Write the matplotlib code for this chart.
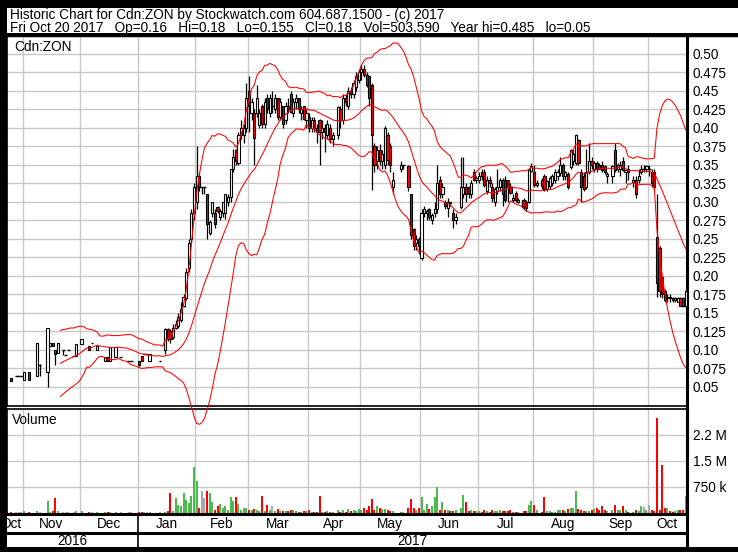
import numpy as np
import pandas as pd
import matplotlib
matplotlib.use("Agg")
import matplotlib.pyplot as plt
from matplotlib.patches import Rectangle
from matplotlib.lines import Line2D

N = None
# ---------------- data (one slot per business day, None = no trade) ----------------
start_date = "2016-10-24"
end_date = "2017-10-20"

opens = [
 N, .062, N, .065, .065, .065, .060, N, .070, N,
 N, .065, .080, N, N, .070, .105, .110, .100, .096,
 N, .100, .093, .100, N, .092, .092, N, .108, N,
 N, .105, .109, N, .100, N, N, .085, .090, .085,
 N, .090, N, .090, N, N, .085, .085, N, N,
 .085, .092, .095, .095, .085, N, N, N, .085, N,
 .100, .128, .125, .118, .130, .133, .140, .160, .170, .210,
 .250, .285, .300, .335, .320, .320, .310, .258, .285, .285,
 .293, .280, .285, .285, .300, .306, .345, .370, .352, .390,
 .390, .400, .450, .420, .420, .420, .404, .430, .405, .440,
 .420, .430, .425, .440, .415, .430, .410, .430, .445, .420,
 .435, .440, .420, .430, .410, .415, .400, .410, .400, .410,
 .395, .400, .390, .400, .385, N, .390, .425, .410, .440,
 .430, .450, .445, .455, .465, .475, .480, .472, .470, .458,
 .375, .355, .370, .355, .350, .390, .375, .320, N, N,
 .345, .350, N, .348, .310, .263, .245, .250, .224, .285,
 .285, .290, .275, .285, .290, .330, .310, .300, .292, .300,
 .285, .275, N, .293, .310, .320, .320, .310, .340, .330,
 .330, .340, .340, .314, .330, .320, .300, .315, .320, .330,
 .330, .330, .320, .303, .312, .300, N, .302, .300, .300,
 .342, .341, .323, N, .330, .335, .318, .322, .325, .330,
 .335, .339, .350, .335, .338, .347, .355, .352, .383, .340,
 .335, .320, .341, .355, .345, .352, .350, .350, .348, .335,
 N, .335, .370, .345, .345, .355, .340, .345, N, .327,
 .330, .330, .340, .345, .345, .345, .340, .340, .253, .238,
 .198, .180, .170, .172, .170, .168, .165, .170, .170, .160]

highs = [
 N, .062, N, .065, .065, .065, .070, N, .070, N,
 N, .110, .081, N, N, .130, .110, .110, .100, .110,
 N, .100, .093, .100, N, .092, .108, N, .115, N,
 N, .105, .109, N, .105, N, N, .090, .090, .104,
 N, .104, N, .090, N, N, .085, .085, N, N,
 .085, .092, .095, .095, .095, N, N, N, .085, N,
 .130, .130, .128, .135, .140, .150, .165, .175, .210, .250,
 .290, .325, .375, .340, .320, .320, .310, .275, .300, .290,
 .295, .290, .300, .310, .310, .345, .372, .372, .395, .410,
 .405, .460, .470, .440, .425, .458, .425, .432, .440, .445,
 .445, .450, .445, .440, .440, .430, .435, .440, .450, .440,
 .445, .440, .430, .430, .425, .420, .415, .415, .405, .412,
 .410, .405, .410, .405, .395, N, .430, .430, .445, .445,
 .455, .455, .465, .475, .480, .485, .485, .475, .470, .460,
 .380, .375, .378, .370, .402, .395, .380, .340, N, N,
 .355, .350, N, .350, .310, .265, .255, .252, .290, .295,
 .290, .292, .285, .300, .350, .335, .325, .302, .305, .300,
 .290, .285, N, .360, .360, .325, .322, .330, .345, .335,
 .340, .345, .345, .335, .335, .325, .320, .345, .332, .332,
 .335, .330, .325, .310, .315, .305, N, .305, .302, .345,
 .352, .350, .330, N, .332, .338, .330, .335, .338, .345,
 .345, .360, .352, .342, .340, .372, .372, .392, .385, .345,
 .340, .372, .380, .360, .355, .355, .352, .355, .350, .340,
 N, .350, .379, .352, .355, .360, .345, .350, N, .335,
 .335, .345, .350, .350, .350, .350, .345, .345, .310, .240,
 .200, .182, .175, .175, .172, .172, .172, .172, .172, .180]

lows = [
 N, .058, N, .065, .065, .065, .060, N, .060, N,
 N, .065, .065, N, N, .050, .105, .105, .080, .096,
 N, .093, .093, .100, N, .092, .092, N, .108, N,
 N, .100, .109, N, .100, N, N, .085, .085, .085,
 N, .090, N, .090, N, N, .085, .085, N, N,
 .078, .085, .095, .095, .085, N, N, N, .085, N,
 .095, .112, .110, .115, .128, .130, .138, .158, .168, .205,
 .245, .275, .290, .315, .310, .310, .250, .255, .280, .265,
 .285, .275, .280, .277, .295, .300, .340, .350, .350, .385,
 .380, .395, .395, .410, .350, .415, .400, .400, .400, .420,
 .415, .420, .420, .410, .410, .400, .405, .420, .420, .415,
 .425, .420, .410, .410, .400, .395, .395, .395, .380, .350,
 .385, .368, .385, .380, .375, N, .385, .400, .405, .430,
 .425, .440, .440, .450, .460, .465, .468, .455, .430, .316,
 .340, .345, .350, .345, .345, .350, .340, .310, N, N,
 .340, .345, N, .315, .250, .235, .235, .230, .222, .280,
 .275, .275, .270, .280, .285, .305, .305, .290, .280, .295,
 .265, .270, N, .290, .305, .300, .305, .305, .328, .325,
 .325, .330, .320, .310, .320, .300, .295, .310, .315, .295,
 .300, .300, .310, .300, .300, .298, N, .290, .288, .298,
 .340, .320, .320, N, .318, .315, .315, .318, .322, .325,
 .330, .335, .330, .330, .318, .345, .350, .350, .350, .300,
 .315, .318, .338, .345, .340, .340, .345, .340, .338, .325,
 N, .325, .340, .340, .335, .342, .325, .330, N, .320,
 .305, .325, .338, .340, .340, .335, .320, .315, .172, .172,
 .170, .165, .165, .165, .165, .165, .165, .160, .158, .155]

closes = [
 N, .058, N, .065, .065, .065, .070, N, .060, N,
 N, .110, .080, N, N, .130, .110, .105, .094, .110,
 N, .100, .093, .100, N, .092, .108, N, .115, N,
 N, .100, .109, N, .105, N, N, .090, .085, .104,
 N, .104, N, .090, N, N, .085, .085, N, N,
 .079, .085, .095, .095, .094, N, N, N, .085, N,
 .128, .115, .115, .130, .135, .145, .155, .172, .205, .245,
 .285, .320, .335, .320, .320, .320, .270, .273, .300, .270,
 .288, .287, .300, .310, .306, .345, .360, .355, .390, .400,
 .400, .440, .430, .435, .386, .440, .420, .405, .435, .425,
 .440, .430, .440, .415, .435, .405, .430, .425, .422, .435,
 .440, .425, .425, .412, .420, .400, .410, .400, .395, .395,
 .400, .395, .405, .385, .390, N, .428, .410, .440, .435,
 .450, .445, .460, .470, .475, .480, .472, .458, .440, .390,
 .350, .370, .355, .365, .400, .357, .350, .330, N, N,
 .350, .350, N, .320, .255, .240, .250, .240, .285, .290,
 .288, .280, .282, .290, .325, .310, .320, .295, .300, .298,
 .275, .280, N, .320, .320, .310, .310, .325, .330, .332,
 .335, .335, .323, .330, .325, .305, .318, .320, .330, .310,
 .302, .320, .312, .305, .303, .302, N, .293, .292, .343,
 .348, .323, .325, N, .322, .318, .328, .332, .335, .340,
 .340, .350, .335, .340, .320, .370, .365, .390, .352, .320,
 .318, .340, .355, .350, .352, .345, .345, .343, .340, .338,
 N, .348, .343, .350, .350, .343, .343, .340, N, .330,
 .310, .335, .345, .345, .348, .345, .326, .320, .190, .180,
 .175, .168, .172, .170, .168, .170, .170, .160, .160, .180]

volumes_k = [
 0, 30, 0, 20, 40, 30, 50, 0, 40, 0,
 0, 60, 30, 0, 0, 340, 40, 50, 430, 60,
 0, 30, 20, 30, 0, 40, 50, 0, 60, 0,
 0, 40, 20, 0, 30, 0, 0, 30, 20, 40,
 0, 30, 0, 20, 0, 0, 20, 20, 0, 0,
 30, 30, 20, 20, 30, 0, 0, 0, 20, 0,
 40, 60, 580, 50, 430, 240, 200, 580, 380, 300,
 500, 1330, 910, 150, 630, 430, 630, 580, 320, 100,
 190, 260, 140, 200, 100, 470, 340, 450, 260, 100,
 150, 150, 80, 100, 120, 100, 60, 500, 60, 240,
 80, 200, 50, 120, 50, 60, 60, 60, 80, 100,
 50, 40, 40, 60, 50, 80, 40, 30, 40, 500,
 30, 40, 60, 40, 40, 0, 80, 40, 100, 30,
 120, 60, 80, 60, 120, 80, 150, 100, 200, 410,
 100, 200, 150, 120, 120, 100, 60, 50, 0, 0,
 30, 30, 0, 150, 400, 150, 100, 150, 460, 100,
 250, 120, 200, 450, 750, 100, 310, 100, 80, 60,
 50, 80, 0, 150, 530, 310, 50, 100, 50, 70,
 50, 30, 80, 60, 40, 100, 60, 70, 80, 60,
 70, 60, 100, 40, 40, 30, 0, 60, 50, 220,
 350, 220, 100, 0, 40, 450, 50, 60, 30, 30,
 80, 90, 90, 60, 120, 150, 150, 640, 120, 100,
 50, 60, 60, 100, 120, 150, 100, 200, 100, 60,
 0, 100, 230, 100, 80, 200, 100, 40, 0, 40,
 100, 60, 200, 160, 100, 230, 100, 50, 2740, 100,
 1370, 150, 150, 50, 30, 60, 80, 100, 100, 503.59]

price_ticks = [0.05, 0.075, 0.10, 0.125, 0.15, 0.175, 0.20, 0.225, 0.25, 0.275,
               0.30, 0.325, 0.35, 0.375, 0.40, 0.425, 0.45, 0.475, 0.50]
price_labels = ["0.05", "0.075", "0.10", "0.125", "0.15", "0.175", "0.20", "0.225", "0.25",
                "0.275", "0.30", "0.325", "0.35", "0.375", "0.40", "0.425", "0.45", "0.475", "0.50"]
vol_ticks = [750e3, 1.5e6, 2.25e6]
vol_labels = ["750 k", "1.5 M", "2.2 M"]
month_names = ["Oct", "Nov", "Dec", "Jan", "Feb", "Mar", "Apr", "May", "Jun", "Jul", "Aug", "Sep", "Oct"]
year_names = ["2016", "2017"]
title1 = "Historic Chart for Cdn:ZON by Stockwatch.com 604.687.1500 - (c) 2017"
title2 = "Fri Oct 20 2017   Op=0.16   Hi=0.18   Lo=0.155   Cl=0.18   Vol=503,590   Year hi=0.485   lo=0.05"

# ---------------- setup ----------------
plt.rcParams["font.family"] = ["Liberation Sans", "DejaVu Sans"]
W, H = 738, 552
fig = plt.figure(figsize=(W / 100, H / 100), dpi=100, facecolor="black")
FS = 9.8

def fx(x): return x / W
def fy(y): return 1 - y / H

def rect(x0, y0, x1, y1, color, z=-5):
    fig.patches.append(Rectangle((fx(x0), fy(y1)), (x1 - x0) / W, (y1 - y0) / H,
                                 transform=fig.transFigure, facecolor=color,
                                 edgecolor="none", zorder=z))

def hline(x0, x1, y, lw=1.5):
    fig.lines.append(Line2D([fx(x0), fx(x1)], [fy(y), fy(y)], transform=fig.transFigure,
                            color="black", lw=lw, zorder=5))

def vline(x, y0, y1, lw=1.5):
    fig.lines.append(Line2D([fx(x), fx(x)], [fy(y0), fy(y1)], transform=fig.transFigure,
                            color="black", lw=lw, zorder=5))

rect(7, 8, 738, 33, "white")
rect(7, 37, 738, 548, "white")

o = np.array(opens, dtype=float)
h = np.array(highs, dtype=float)
l = np.array(lows, dtype=float)
c = np.array(closes, dtype=float)
v = np.array(volumes_k, dtype=float) * 1000
dates = pd.bdate_range(start_date, end_date)
idx = np.arange(len(dates))

# month starts
periods = dates.to_period("M")
mstarts = [0] + [i for i in range(1, len(dates)) if periods[i] != periods[i - 1]]
grid_x = [m - 0.5 for m in mstarts[1:]]
bounds = [-0.5] + grid_x + [len(dates) - 0.5]
year_start = [m for m in mstarts if dates[m].month == 1][0] - 0.5

# Bollinger bands
s = pd.Series(c).ffill()
mid = s.rolling(20).mean()
sd = s.rolling(20).std(ddof=0)
upper = mid + 2 * sd
lower = mid - 2 * sd

# ---------------- price panel ----------------
ax = fig.add_axes([fx(7), fy(406), 680 / W, 370 / H])
ax.set_zorder(1)
ax.set_xlim(-0.5, len(dates) - 0.5)
ax.set_ylim(0.0243, 0.524)
ax.set_facecolor("white")
ax.set_yticks(price_ticks)
ax.set_yticklabels(price_labels)
ax.set_xticks(grid_x)
ax.set_xticklabels([])
ax.tick_params(axis="y", length=0, pad=4, labelsize=FS, labelright=True, labelleft=False)
ax.tick_params(axis="x", length=0)
ax.grid(True, color="#c8c8c8", lw=1.0, zorder=0)
ax.set_axisbelow(True)
for sp in ax.spines.values():
    sp.set_color("black")
    sp.set_linewidth(1.2)
ax.spines["right"].set_linewidth(2.2)

valid = ~np.isnan(c)
ax.vlines(idx[valid], l[valid], h[valid], color="black", lw=0.9, zorder=2)
up = valid & (c > o)
dn = valid & (c < o)
eq = valid & (c == o)
bw = 0.8
ax.bar(idx[up], (c - o)[up], bottom=o[up], width=bw, facecolor="white",
       edgecolor="black", lw=0.8, zorder=3)
ax.bar(idx[dn], (o - c)[dn], bottom=c[dn], width=bw, facecolor="#ff0000",
       edgecolor="black", lw=0.8, zorder=3)
ax.hlines(c[eq], idx[eq] - 0.55, idx[eq] + 0.55, color="black", lw=1.0, zorder=3)

for band in (upper, mid, lower):
    ax.plot(idx, band, color="#ff0000", lw=0.75, zorder=4, clip_on=False)

ax.text(7 / 680, 1 - 11 / 370, "Cdn:ZON", transform=ax.transAxes, fontsize=FS,
        va="center", ha="left", zorder=6)

# ---------------- volume panel ----------------
vax = fig.add_axes([fx(7), fy(514), 680 / W, 105 / H])
vax.set_zorder(0.5)
vax.set_xlim(-0.5, len(dates) - 0.5)
vax.set_ylim(-0.029e6, 2.997e6)
vax.set_facecolor("white")
vax.set_yticks(vol_ticks)
vax.set_yticklabels(vol_labels)
vax.set_xticks(grid_x)
vax.set_xticklabels([])
vax.tick_params(axis="y", length=0, pad=4, labelsize=FS, labelright=True, labelleft=False)
vax.tick_params(axis="x", length=0)
vax.grid(True, color="#c8c8c8", lw=1.0, zorder=0)
vax.set_axisbelow(True)
for sp in vax.spines.values():
    sp.set_color("black")
    sp.set_linewidth(1.2)
vax.spines["right"].set_linewidth(2.2)
vax.spines["bottom"].set_linewidth(2.2)

vcol = np.where(c > o, "#4db84d", np.where(c < o, "#ff0000", "#a8a8a8"))
vv = valid & (v > 0)
vax.bar(idx[vv], v[vv], width=0.75, color=vcol[vv], zorder=2)
vax.text(5 / 680, 1 - 11 / 105, "Volume", transform=vax.transAxes, fontsize=FS,
         va="center", ha="left")

# ---------------- x labels ----------------
def xpix(d):
    return 7 + (d + 0.5) * 680 / len(dates)

for k, name in enumerate(month_names):
    cx = (xpix(bounds[k]) + xpix(bounds[k + 1])) / 2
    if k == 0:
        cx = 11
    fig.text(fx(cx), fy(524), name, fontsize=FS, ha="center", va="center", zorder=1)
ys = xpix(year_start)
fig.text(fx((7 + ys) / 2), fy(541), year_names[0], fontsize=FS, ha="center", va="center")
fig.text(fx((ys + 687) / 2), fy(541), year_names[1], fontsize=FS, ha="center", va="center")

# frame pieces
rect(0, 0, 7, 552, "black", z=6)
hline(7, 738, 34.5, lw=2.5)
hline(7, 687, 532.5, lw=2.2)
vline(ys, 515, 548, lw=1.2)
vline(687, 406, 548, lw=2.2)
rect(0, 547, 738, 552, "black", z=6)

fig.text(fx(10), fy(15), title1, fontsize=FS, ha="left", va="center")
fig.text(fx(10), fy(28), title2, fontsize=FS, ha="left", va="center")

fig.savefig("out.png", dpi=100, facecolor="black")
